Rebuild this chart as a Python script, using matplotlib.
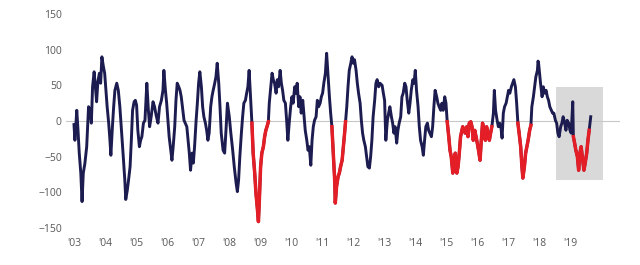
import numpy as np
import matplotlib
matplotlib.use("Agg")
import matplotlib.pyplot as plt
from matplotlib.patches import Rectangle

# years since 2003 and index values
t = [0.00, 0.03, 0.09, 0.13, 0.17, 0.22, 0.26, 0.30, 0.35, 0.41, 0.44, 0.47, 0.52, 0.56, 0.60,
     0.65, 0.69, 0.73, 0.77, 0.82, 0.86, 0.90, 0.95, 0.99, 1.03, 1.07, 1.12, 1.16, 1.19, 1.24,
     1.28, 1.32, 1.38, 1.43, 1.48, 1.54, 1.59, 1.64, 1.67, 1.72, 1.76, 1.81, 1.85, 1.89, 1.94,
     1.98, 2.02, 2.06, 2.11, 2.15, 2.19, 2.24, 2.29, 2.35, 2.40, 2.44, 2.49, 2.55, 2.60, 2.65,
     2.71, 2.76, 2.82, 2.87, 2.90, 2.95, 2.99, 3.03, 3.07, 3.12, 3.16, 3.20, 3.25, 3.29, 3.33,
     3.38, 3.42, 3.46, 3.51, 3.55, 3.59, 3.64, 3.68, 3.72, 3.76, 3.81, 3.85, 3.89, 3.94, 3.98,
     4.02, 4.06, 4.11, 4.15, 4.19, 4.24, 4.28, 4.32, 4.36, 4.41, 4.45, 4.49, 4.54, 4.58, 4.62,
     4.67, 4.71, 4.75, 4.81, 4.86, 4.91, 4.95, 5.01, 5.06, 5.12, 5.17, 5.23, 5.27, 5.31, 5.35,
     5.40, 5.44, 5.48, 5.53, 5.57, 5.61, 5.65, 5.70, 5.74, 5.78, 5.83, 5.87, 5.91, 5.95, 5.98,
     6.02, 6.06, 6.11, 6.15, 6.19, 6.24, 6.27, 6.30, 6.35, 6.39, 6.43, 6.47, 6.52, 6.56, 6.60,
     6.65, 6.69, 6.73, 6.77, 6.82, 6.86, 6.90, 6.95, 6.99, 7.03, 7.07, 7.12, 7.16, 7.20, 7.25,
     7.29, 7.33, 7.38, 7.44, 7.46, 7.51, 7.55, 7.59, 7.64, 7.68, 7.72, 7.76, 7.81, 7.85, 7.89,
     7.94, 7.98, 8.02, 8.06, 8.11, 8.15, 8.19, 8.24, 8.28, 8.32, 8.36, 8.41, 8.43, 8.47, 8.52,
     8.56, 8.60, 8.65, 8.69, 8.73, 8.76, 8.80, 8.84, 8.88, 8.93, 8.97, 9.01, 9.05, 9.10, 9.14,
     9.18, 9.23, 9.27, 9.31, 9.35, 9.40, 9.44, 9.48, 9.53, 9.57, 9.61, 9.65, 9.70, 9.74, 9.78,
     9.83, 9.87, 9.94, 9.98, 10.02, 10.06, 10.11, 10.15, 10.19, 10.24, 10.28, 10.32, 10.36, 10.41, 10.45,
     10.49, 10.54, 10.58, 10.62, 10.67, 10.71, 10.75, 10.80, 10.84, 10.88, 10.93, 10.97, 11.01, 11.05, 11.10,
     11.14, 11.18, 11.23, 11.27, 11.31, 11.35, 11.40, 11.44, 11.48, 11.53, 11.57, 11.61, 11.65, 11.70, 11.74,
     11.78, 11.83, 11.87, 11.91, 11.96, 12.00, 12.04, 12.09, 12.13, 12.17, 12.22, 12.26, 12.30, 12.35, 12.39,
     12.43, 12.47, 12.54, 12.58, 12.62, 12.67, 12.71, 12.75, 12.80, 12.84, 12.88, 12.93, 12.97, 13.01, 13.05,
     13.10, 13.14, 13.18, 13.23, 13.27, 13.31, 13.35, 13.40, 13.44, 13.48, 13.53, 13.56, 13.60, 13.65, 13.69,
     13.73, 13.77, 13.81, 13.85, 13.89, 13.94, 13.98, 14.02, 14.06, 14.11, 14.15, 14.19, 14.24, 14.28, 14.32,
     14.36, 14.41, 14.45, 14.48, 14.53, 14.57, 14.61, 14.65, 14.70, 14.74, 14.77, 14.82, 14.86, 14.90, 14.95,
     14.97, 14.99, 15.01, 15.05, 15.10, 15.14, 15.18, 15.23, 15.27, 15.31, 15.35, 15.40, 15.44, 15.48, 15.53,
     15.57, 15.61, 15.65, 15.70, 15.74, 15.78, 15.83, 15.87, 15.91, 15.96, 16.00, 16.04, 16.09, 16.11, 16.15,
     16.19, 16.24, 16.28, 16.32, 16.36, 16.41, 16.45, 16.49, 16.54, 16.58, 16.62, 16.67]

vals = [-5, -27, 15, -13, -45, -73, -113, -73, -60, -36, -8, 20, 15, -3, 48,
        69, 48, 27, 55, 67, 53, 90, 76, 67, 43, 20, -3, -27, -48, -8,
        20, 43, 53, 43, 20, -17, -50, -83, -110, -97, -83, -64, -27, 15, 27,
        29, 22, -13, -36, -27, -22, -3, 1, 53, 15, -8, 6, 27, 20, 8,
        -3, 20, 29, 43, 71, 43, 25, 1, -22, -41, -55, -36, -8, 29, 53,
        48, 43, 34, 15, 1, -3, -8, -27, -45, -69, -45, -59, -36, 1, 25,
        53, 69, 48, 20, 6, -3, -13, -27, -17, 20, 34, 43, 53, 62, 81,
        53, 20, -17, -41, -45, -8, 25, 6, -17, -41, -64, -87, -99, -83, -50,
        -17, 6, 25, 29, 39, 48, 71, 29, -3, -45, -73, -101, -120, -141, -111,
        -64, -45, -36, -22, -13, -6, -1, 25, 48, 67, 58, 53, 39, 58, 48,
        71, 53, 43, 29, 25, 1, -27, 1, 20, 34, 25, 48, 39, 53, 20,
        34, 11, 29, -3, -13, -27, -41, -36, -62, -27, -8, 1, 6, 29, 20,
        25, 34, 39, 53, 67, 95, 67, 34, 11, -8, -41, -83, -115, -92, -78,
        -73, -64, -55, -36, -17, -1, 20, 48, 71, 81, 90, 81, 86, 71, 53,
        39, 25, 1, -17, -27, -36, -50, -64, -66, -50, -27, 6, 29, 53, 58,
        48, 53, 50, 39, 29, -27, 1, 11, 20, 6, -3, -17, -8, -31, -13,
        -3, 6, 34, 39, 53, 48, 29, 11, 25, 43, 58, 53, 71, 43, 20,
        -8, -27, -36, -48, -27, -8, -3, -13, -17, -22, -8, 20, 43, 34, 25,
        20, 15, 25, 15, 34, 25, -1, -22, -41, -50, -73, -55, -45, -73, -64,
        -45, -22, -8, -13, -17, -8, -22, -3, -1, -8, -27, -13, -22, -31, -41,
        -55, -27, -3, -13, -27, -8, -17, -27, -17, -8, 11, 43, 15, 1, -8,
        -3, -8, -24, 11, 20, 25, 34, 43, 39, 48, 53, 58, 48, 25, -3,
        -17, -36, -64, -80, -64, -45, -36, -27, -13, -6, 20, 34, 48, 62, 71,
        84, 80, 71, 53, 34, 48, 39, 43, 34, 29, 20, 15, 11, 11, 1,
        -3, -17, -22, -8, -3, 6, -3, -13, 1, -3, -13, -17, 27, -22, -31,
        -41, -50, -69, -45, -36, -55, -69, -59, -45, -27, -13, 6]

# periods drawn in red (years since 2003)
red_start = [5.74, 8.32, 12.04, 14.32, 16.11]
red_end = [6.27, 8.76, 13.48, 14.74, 16.62]

# shaded box
box_years = [2018.55, 2020.06]
box_vals = [-82, 48]

tick_years = list(range(2003, 2020))
tick_labels = ["'%02d" % (y % 100) for y in tick_years]

years = 2003 + np.array(t)
vals = np.array(vals, dtype=float)

mask = np.zeros(len(years), dtype=bool)
for a, b in zip(red_start, red_end):
    mask |= (years >= 2003 + a - 1e-6) & (years <= 2003 + b + 1e-6)
red_vals = np.where(mask, vals, np.nan)

fig = plt.figure(figsize=(6.4, 2.65), dpi=100)
ax = fig.add_axes([0.1031, 0.1396, 0.8656, 0.8075])

ax.add_patch(Rectangle((box_years[0], box_vals[0]), box_years[1] - box_years[0],
                       box_vals[1] - box_vals[0], facecolor='#d9d9d9', edgecolor='none', zorder=0))
ax.axhline(0, color='#c8c8c8', lw=0.8, zorder=1)
ax.plot(years, vals, color='#1c1c50', lw=2.1, zorder=2, solid_joinstyle='round')
ax.plot(years, red_vals, color='#e41e26', lw=2.5, zorder=3, solid_joinstyle='round')

ax.set_xlim(2002.742, 2020.613)
ax.set_ylim(-150, 150)
ax.set_yticks([-150, -100, -50, 0, 50, 100, 150])
ax.set_xticks(tick_years)
ax.set_xticklabels(tick_labels)
for s in ax.spines.values():
    s.set_visible(False)
ax.tick_params(axis='both', length=0, labelsize=7.5, labelcolor='#595959')
ax.tick_params(axis='x', pad=7)
ax.tick_params(axis='y', pad=3)
for lbl in ax.get_xticklabels() + ax.get_yticklabels():
    lbl.set_fontfamily('Open Sans')

fig.savefig('out.png', dpi=100)
